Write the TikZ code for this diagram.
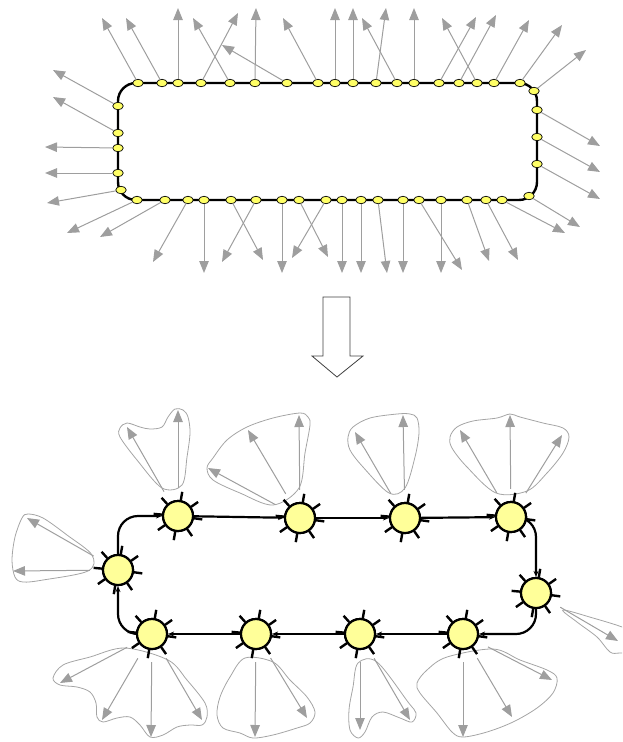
\documentclass[tikz,border=0pt]{standalone}
\usetikzlibrary{arrows.meta,shapes.geometric}
\definecolor{dotyellow}{RGB}{255,255,102}
\definecolor{nodeyellow}{RGB}{255,255,153}
\definecolor{arrgray}{RGB}{158,158,158}
\definecolor{blobgray}{RGB}{165,165,165}
\begin{document}
\begin{tikzpicture}[x=1pt,y=-1pt,
  dot/.style={ellipse, draw=black, line width=0.7pt, fill=dotyellow, minimum width=10.5pt, minimum height=7.5pt, inner sep=0pt, outer sep=0pt},
  garrow/.style={draw=arrgray, line width=1pt, -{Triangle[length=12pt,width=9.5pt]}, arrgray},
  barrow/.style={garrow, shorten <=12pt},
  frame/.style={draw=black, line width=2.4pt, rounded corners=18pt},
  bnode/.style={circle, draw=black, line width=2.2pt, fill=nodeyellow, minimum size=30pt, inner sep=0pt},
  tickmark/.style={draw=black, line width=2.4pt},
  loopedge/.style={draw=black, line width=2.2pt, rounded corners=20pt, -{Stealth[length=6pt,width=5pt]}},
  blob/.style={draw=blobgray, line width=0.8pt},
  bigarrow/.style={draw=black!75, line width=0.8pt, fill=white}]
\useasboundingbox (0,0) rectangle (622,742);
\clip (0,0) rectangle (622,742);

% ---------------- top diagram ----------------
\draw[frame] (118,83) rectangle (537,200);
\foreach \i/\x/\y/\tx/\ty in {
  1/138/83/102/18, 2/162/83/126/18, 3/178/83/178/8, 4/201/83/238/13,
  5/230/83/193/18, 6/255/83/256/8, 7/287/83/222/45, 8/318/83/283/18,
  9/335/83/335/8, 10/353/83/353/8, 11/376/83/386/8, 12/397/83/362/18,
  13/414/83/414/8, 14/439/83/476/17, 15/459/83/496/15, 16/477/83/442/18,
  17/494/83/529/20, 18/520/83/562/25, 19/534/91/586/50,
  20/537/110/600/146, 21/537/137/600/172, 22/537/164/600/199, 23/529/196/580/227,
  24/502/200/565/233, 25/486/200/518/260, 26/467/200/489/261, 27/441/200/441/273,
  28/419/200/462/270, 29/403/200/403/273, 30/378/200/387/273, 31/361/200/361/273,
  32/342/200/342/273, 33/326/200/292/258, 34/299/200/328/257, 35/282/200/282/273,
  36/256/200/222/262, 37/231/200/263/260, 38/204/200/204/273, 39/188/200/153/262,
  40/165/200/100/237, 41/137/200/67/233,
  42/121/190/47/203, 43/118/173/45/173, 44/118/148/45/147, 45/118/133/53/97,
  46/118/106/53/70} {
  \node[dot] (d\i) at (\x,\y) {};
  \coordinate (e\i) at (\tx,\ty);
}
\foreach \i in {1,...,46} \draw[garrow] (d\i) -- (e\i);

% ---------------- transformation arrow ----------------
\draw[bigarrow] (323,297) -- (350,297) -- (350,356) -- (363,356) -- (337,377) -- (312,356) -- (323,356) -- cycle;

% ---------------- bottom diagram: blobs ----------------
\draw[blob] plot[smooth cycle, tension=0.55] coordinates {(162,488) (137,460) (120,437) (120,428) (127,423) (140,427) (150,429) (162,427) (168,417) (175,409) (183,410) (188,417) (190,433) (187,457) (182,485)};
\draw[blob] plot[smooth cycle, tension=0.55] coordinates {(273,505) (240,493) (213,480) (207,468) (213,458) (227,440) (247,427) (273,418) (300,413) (308,417) (310,425) (305,453) (299,488)};
\draw[blob] plot[smooth cycle, tension=0.55] coordinates {(389,493) (363,467) (350,450) (348,437) (353,427) (370,418) (397,414) (410,414) (417,418) (419,433) (415,457) (405,488)};
\draw[blob] plot[smooth cycle, tension=0.55] coordinates {(496,493) (467,467) (452,448) (450,437) (457,427) (473,421) (497,418) (510,414) (520,417) (543,423) (563,428) (569,437) (563,453) (547,473) (527,491)};
\draw[blob] plot[smooth cycle, tension=0.55] coordinates {(92,555) (67,535) (43,518) (28,514) (22,518) (15,537) (12,560) (15,577) (23,582) (43,580) (88,571)};
\draw[blob] plot[smooth cycle, tension=0.55] coordinates {(125,648) (90,657) (63,665) (53,678) (60,685) (77,687) (90,692) (96,703) (97,717) (103,722) (117,718) (130,717) (140,725) (150,737) (163,735) (177,727) (190,725) (202,725) (207,717) (205,703) (187,680) (168,660)};
\draw[blob] plot[smooth cycle, tension=0.55] coordinates {(245,658) (230,677) (220,697) (217,715) (223,728) (240,733) (253,738) (273,735) (297,728) (310,723) (315,712) (307,697) (290,680) (273,662)};
\draw[blob] plot[smooth cycle, tension=0.55] coordinates {(358,663) (353,687) (349,710) (350,730) (358,738) (365,732) (372,717) (383,712) (400,718) (412,722) (416,713) (408,702) (377,662)};
\draw[blob] plot[smooth cycle, tension=0.55] coordinates {(447,657) (427,670) (417,683) (420,693) (437,713) (452,732) (463,737) (487,732) (513,722) (537,708) (553,693) (557,678) (547,670) (520,660) (493,649)};
\draw[blob] plot[smooth cycle, tension=0.55] coordinates {(563,610) (593,618) (622,627) (640,636) (640,652) (620,653) (610,652) (597,637) (577,622)};

% ---------------- bottom diagram: nodes ----------------
\node[bnode] (N1) at (178,516) {};
\node[bnode] (N2) at (300,518) {};
\node[bnode] (N3) at (405,518) {};
\node[bnode] (N4) at (511,517) {};
\node[bnode] (N5) at (536,593) {};
\node[bnode] (N6) at (463,634) {};
\node[bnode] (N7) at (360,634) {};
\node[bnode] (N8) at (256,634) {};
\node[bnode] (N9) at (152,634) {};
\node[bnode] (N10) at (118,570) {};

% loop edges
\draw[loopedge] (N10) |- (N1);
\draw[loopedge] (N1) -- (N2);
\draw[loopedge] (N2) -- (N3);
\draw[loopedge] (N3) -- (N4);
\draw[loopedge] (N4) -| (N5);
\draw[loopedge] (N5) |- (N6);
\draw[loopedge] (N6) -- (N7);
\draw[loopedge] (N7) -- (N8);
\draw[loopedge] (N8) -- (N9);
\draw[loopedge] (N9) -| (N10);

% redraw node bodies over edges
\foreach \n in {N1,N2,N3,N4,N5,N6,N7,N8,N9,N10}
  \node[bnode] at (\n.center) {};

% tick marks
\foreach \n in {N1,N2,N3,N4,N5,N6,N7,N8,N9,N10}
  \foreach \a in {-80,-35,8,55,100,145,-175,-132}
    \draw[tickmark] (\n.center) ++(\a:16) -- ++(\a:8.5);

% gray arrows of the groups
\coordinate (g1a) at (127,427); \coordinate (g1b) at (178,410);
\coordinate (g2a) at (208,468); \coordinate (g2b) at (248,430); \coordinate (g2c) at (299,415);
\coordinate (g3a) at (355,432); \coordinate (g3b) at (403,415);
\coordinate (g4a) at (460,430); \coordinate (g4b) at (510,415); \coordinate (g4c) at (562,435);
\coordinate (g5a) at (618,641);
\coordinate (g6a) at (463,737); \coordinate (g6b) at (512,717); \coordinate (g6c) at (552,680);
\coordinate (g7a) at (360,730); \coordinate (g7b) at (410,720);
\coordinate (g8a) at (255,737); \coordinate (g8b) at (307,718);
\coordinate (g9a) at (60,683); \coordinate (g9b) at (102,720); \coordinate (g9c) at (151,737); \coordinate (g9d) at (202,720);
\coordinate (g10a) at (27,518); \coordinate (g10b) at (13,571);

\foreach \n/\g in {N1/g1a, N1/g1b, N2/g2a, N2/g2b, N2/g2c, N3/g3a, N3/g3b,
  N4/g4a, N4/g4b, N4/g4c, N5/g5a, N6/g6a, N6/g6b, N6/g6c, N7/g7a, N7/g7b,
  N8/g8a, N8/g8b, N9/g9a, N9/g9b, N9/g9c, N9/g9d, N10/g10a, N10/g10b}
  \draw[barrow] (\n) -- (\g);
\end{tikzpicture}
\end{document}
